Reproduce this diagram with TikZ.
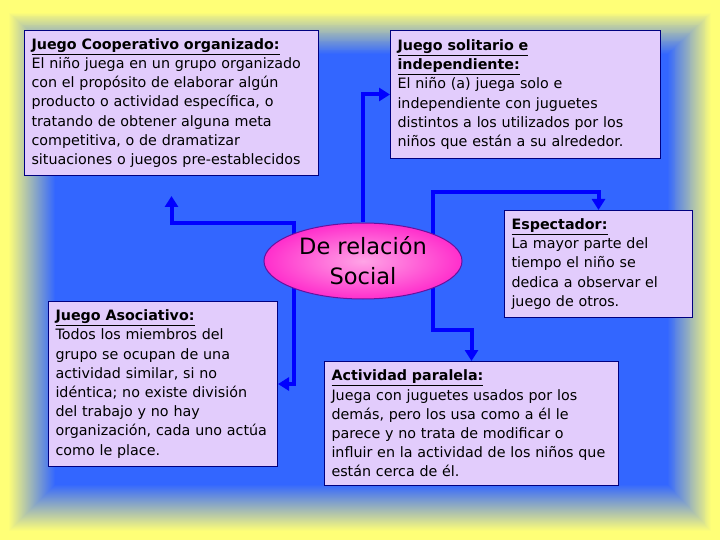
\documentclass[tikz,border=0pt]{standalone}
\usepackage{fontspec}
\setmainfont{DejaVu Sans}
\usepackage{xcolor}
\usepackage{tikz}
\usetikzlibrary{arrows.meta,calc,shapes.geometric,backgrounds}
\definecolor{fondo}{HTML}{FFFF77}
\definecolor{azul}{HTML}{3366FF}
\definecolor{lila}{HTML}{E2CCFC}
\definecolor{marco}{HTML}{000080}
\definecolor{trazo}{HTML}{0000FF}
\definecolor{rosa}{HTML}{FFA4E6}
\definecolor{fucsia}{HTML}{FF2ECC}
\tikzset{
  caja/.style={draw=marco, line width=1pt, fill=lila, anchor=north west,
    inner xsep=7pt, inner ysep=4pt, align=left,
    font=\fontsize{14.3}{19.2}\selectfont},
  flecha/.style={draw=trazo, line width=4pt, -{Triangle[length=11pt,width=13pt]}},
  centro/.style={ellipse, draw=marco!60!fucsia, line width=1pt,
    inner color=rosa, outer color=fucsia, minimum width=198pt,
    minimum height=76pt, inner sep=0pt, align=center,
    font=\fontsize{22.5}{30}\selectfont}
}

\begin{document}
\begin{tikzpicture}[x=1pt, y=-1pt]
  \useasboundingbox (0,0) rectangle (720,540);

  % fondo amarillo que pasa a azul hacia el centro
  \begin{pgfonlayer}{background}
    \fill[fondo] (0,0) rectangle (720,540);
    \foreach \i in {0,...,47} {
      \pgfmathsetmacro{\t}{\i/47}
      \pgfmathsetmacro{\p}{100*\t}
      \fill[azul!\p!fondo] ({8+47*\t},{12+42*\t}) rectangle ({712-44*\t},{532-47*\t});
    }
  \end{pgfonlayer}

  \node[caja, text width=280pt, minimum height=145pt] (coop) at (24,30)
    {\textbf{\underline{Juego Cooperativo organizado:}}\\
     El niño juega en un grupo organizado\\
     con el propósito de elaborar algún\\
     producto o actividad específica, o\\
     tratando de obtener alguna meta\\
     competitiva, o de dramatizar\\
     situaciones o juegos pre-establecidos};
  \node[caja, text width=256pt, minimum height=128pt] (soli) at (390,30)
    {\textbf{\underline{Juego solitario e}}\\
     \textbf{\underline{independiente:}}\\
     El niño (a) juega solo e\\
     independiente con juguetes\\
     distintos a los utilizados por los\\
     niños que están a su alrededor.};
  \node[caja, text width=174pt, minimum height=107pt] (espec) at (504,210)
    {\textbf{\underline{Espectador:}}\\
     La mayor parte del\\
     tiempo el niño se\\
     dedica a observar el\\
     juego de otros.};
  \node[caja, text width=215pt, minimum height=165pt] (asoc) at (48,301)
    {\textbf{\underline{Juego Asociativo:}}\\
     Todos los miembros del\\
     grupo se ocupan de una\\
     actividad similar, si no\\
     idéntica; no existe división\\
     del trabajo  y no hay\\
     organización, cada uno actúa\\
     como le place.};
  \node[caja, text width=280pt, minimum height=124pt] (paral) at (324,361)
    {\textbf{\underline{Actividad paralela:}}\\
     Juega con juguetes usados por los\\
     demás, pero los usa como a él le\\
     parece y no trata de modificar o\\
     influir en la actividad de los niños que\\
     están cerca de él.};

  \node[centro] (social) at (363,261) {De relación\\Social};

  % conectores por debajo de la elipse
  \begin{pgfonlayer}{background}
    \draw[flecha] (social.north) |- (soli.west);
    \draw[flecha] ($(social.center)+(-69,0)$) -- ++(0,-38) -| ([yshift=-20pt]coop.south);
    \draw[flecha] ($(social.center)+(-69,0)$) |- (asoc.east);
    \draw[flecha] ($(social.center)+(70,0)$) |- ([yshift=18pt]espec.north) -- (espec.north);
    \draw[flecha] ($(social.center)+(70,0)$) |- ([yshift=31pt]paral.north) -- (paral.north);
  \end{pgfonlayer}
\end{tikzpicture}
\end{document}
